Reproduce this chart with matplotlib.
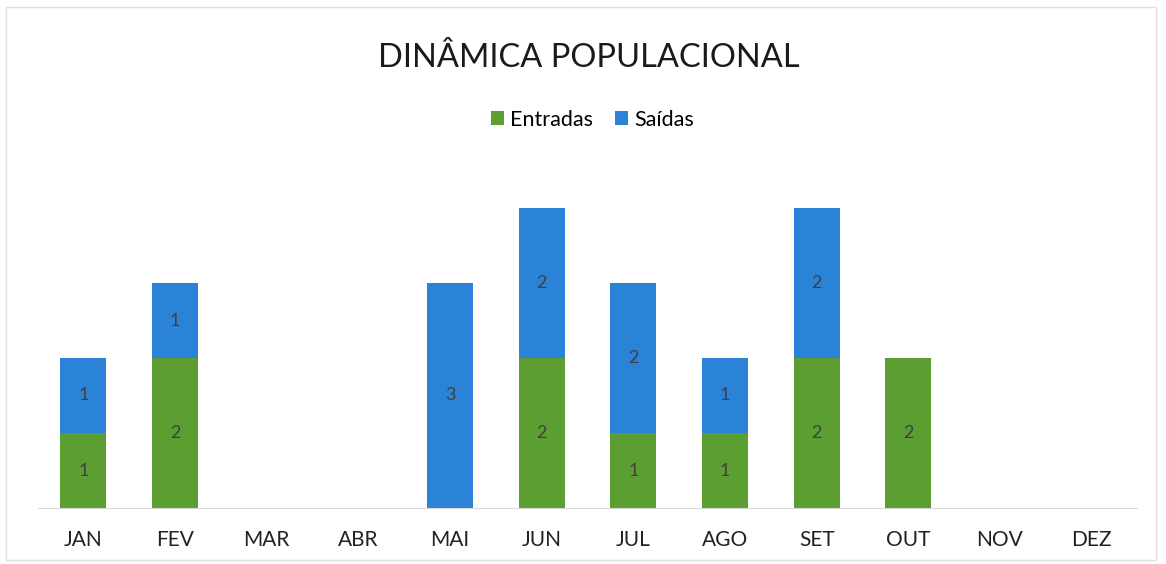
import matplotlib.pyplot as plt
import numpy as np

meses = ['JAN', 'FEV', 'MAR', 'ABR', 'MAI', 'JUN', 'JUL', 'AGO', 'SET', 'OUT', 'NOV', 'DEZ']
entradas = [1, 2, 0, 0, 0, 2, 1, 1, 2, 2, 0, 0]
saidas = [1, 1, 0, 0, 3, 2, 2, 1, 2, 0, 0, 0]

verde = '#5C9E31'
azul = '#2B83D8'

plt.rcParams['font.family'] = ['Lato', 'DejaVu Sans']

fig = plt.figure(figsize=(11.66, 5.64), dpi=100)
ax = fig.add_axes([37.5 / 1166, 56 / 564, 1100 / 1166, 375 / 564])

x = np.arange(len(meses))
b1 = ax.bar(x, entradas, width=0.5, color=verde, label='Entradas')
b2 = ax.bar(x, saidas, width=0.5, bottom=entradas, color=azul, label='Saídas')

# rótulos dentro das barras
for i in range(len(meses)):
    if entradas[i] > 0:
        ax.text(x[i], entradas[i] / 2, str(entradas[i]), ha='center', va='center',
                fontsize=13, color='#404040')
    if saidas[i] > 0:
        ax.text(x[i], entradas[i] + saidas[i] / 2, str(saidas[i]), ha='center', va='center',
                fontsize=13, color='#404040')

ax.set_xlim(-0.5, len(meses) - 0.5)
ax.set_ylim(0, 5)
ax.set_xticks(x)
ax.set_xticklabels(meses, fontsize=15, color='#222222')
ax.set_yticks([])
ax.tick_params(axis='x', length=0, pad=16)
for s in ['top', 'right', 'left']:
    ax.spines[s].set_visible(False)
ax.spines['bottom'].set_color('#d9d9d9')

fig.text(0.505, 0.898, 'DINÂMICA POPULACIONAL', ha='center', va='center',
         fontsize=23.5, color='#1a1a1a')
fig.legend(handles=[b1, b2], loc='center', bbox_to_anchor=(0.508, 0.788), ncol=2,
           frameon=False, fontsize=15.5, handlelength=0.6, handleheight=0.6,
           handletextpad=0.3, columnspacing=1.0)

# moldura clara do gráfico
fig.patches.append(plt.Rectangle((6 / 1166, 4 / 564), 1150 / 1166, 553 / 564,
                                 transform=fig.transFigure, fill=False,
                                 edgecolor='#e0e0e0', linewidth=1))

fig.savefig('out.png', dpi=100)
